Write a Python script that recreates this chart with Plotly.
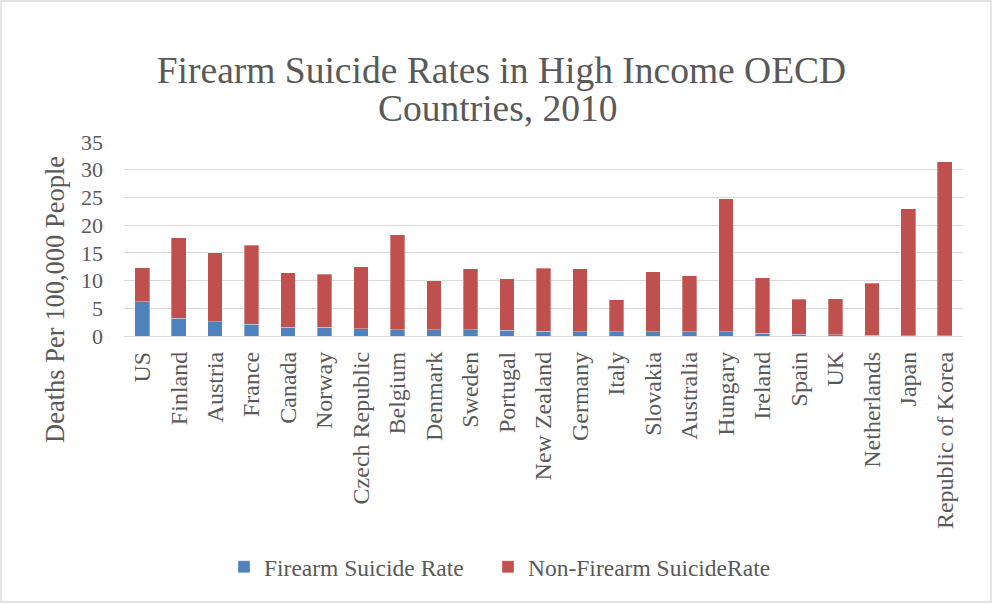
import plotly.graph_objects as go

# Suicide rates per 100,000 people, 2010
countries = ["US", "Finland", "Austria", "France", "Canada", "Norway",
             "Czech Republic", "Belgium", "Denmark", "Sweden", "Portugal",
             "New Zealand", "Germany", "Italy", "Slovakia", "Australia",
             "Hungary", "Ireland", "Spain", "UK", "Netherlands", "Japan",
             "Republic of Korea"]
firearm_rate = [6.2, 3.2, 2.6, 2.1, 1.6, 1.6, 1.3, 1.1, 1.1, 1.1, 1.0, 0.85,
                0.8, 0.8, 0.8, 0.8, 0.8, 0.5, 0.35, 0.25, 0.1, 0.05, 0.05]
non_firearm_rate = [6.15, 14.5, 12.4, 14.3, 9.8, 9.5, 11.2, 17.2, 8.9, 11.0,
                    9.3, 11.35, 11.3, 5.7, 10.8, 10.1, 24.0, 10.0, 6.25, 6.5,
                    9.4, 22.95, 31.35]
y_ticks = [0, 5, 10, 15, 20, 25, 30, 35]

W, H = 993, 605
L, R, T, B = 124, 30, 142, 269
FONT = "Liberation Serif"
GREY = "#595959"
GRID = "#d9d9d9"

fig = go.Figure()
fig.add_trace(go.Bar(
    x=countries, y=firearm_rate, name="Firearm Suicide Rate",
    legend="legend", showlegend=True,
    marker=dict(color="#4F81BD", line=dict(color="rgba(255,255,255,0.4)", width=0.8)),
))
fig.add_trace(go.Bar(
    x=countries, y=non_firearm_rate, name="Non-Firearm SuicideRate",
    legend="legend2", showlegend=True,
    marker=dict(color="#C0504D", line=dict(color="rgba(255,255,255,0.4)", width=0.8)),
))

# helpers converting page pixels to paper units of the plot area
pw, ph = W - L - R, H - T - B
px = lambda v: (v - L) / pw
py = lambda v: (H - B - v) / ph

legend_style = dict(
    orientation="h", xanchor="left", xref="container",
    yref="container", y=1 - 567 / H, yanchor="middle",
    font=dict(family=FONT, size=23.5, color=GREY),
)

fig.update_layout(
    width=W, height=H,
    margin=dict(l=L, r=R, t=T, b=B, autoexpand=False),
    paper_bgcolor="white", plot_bgcolor="white",
    barmode="stack", bargap=0.6,
    showlegend=True,
    font=dict(family=FONT, color=GREY),
    title=dict(
        text="Firearm Suicide Rates in High Income OECD",
        font=dict(family=FONT, size=37.5, color=GREY),
        xref="container", x=0.505, xanchor="center",
        yref="container", y=1 - 70 / H, yanchor="middle",
    ),
    annotations=[
        dict(text="Countries, 2010", showarrow=False,
             font=dict(family=FONT, size=37.5, color=GREY),
             xref="paper", x=px(498), xanchor="center",
             yref="paper", y=py(108), yanchor="middle"),
        dict(text="Deaths Per 100,000 People", showarrow=False, textangle=-90,
             font=dict(family=FONT, size=26.5, color=GREY),
             xref="paper", x=px(55), xanchor="center",
             yref="paper", y=py(300), yanchor="middle"),
    ],
    xaxis=dict(
        tickangle=-90, tickfont=dict(family=FONT, size=24, color=GREY),
        showgrid=False, showline=False, ticks="", ticklabelstandoff=10,
    ),
    yaxis=dict(
        range=[0, 35], tickvals=y_ticks,
        tickfont=dict(family=FONT, size=22, color=GREY),
        showgrid=True, gridcolor=GRID, gridwidth=1.3,
        zeroline=True, zerolinecolor=GRID, zerolinewidth=1.3,
        showline=False, ticks="", ticklabelstandoff=20,
    ),
    legend=dict(legend_style, x=224 / W, visible=True),
    legend2=dict(legend_style, x=488 / W, visible=True),
    shapes=[dict(
        type="rect", xref="paper", yref="paper",
        x0=px(1), x1=px(991), y0=py(602), y1=py(1),
        line=dict(color=GRID, width=1.3), layer="below",
    )],
)

fig.write_html("out.html")
